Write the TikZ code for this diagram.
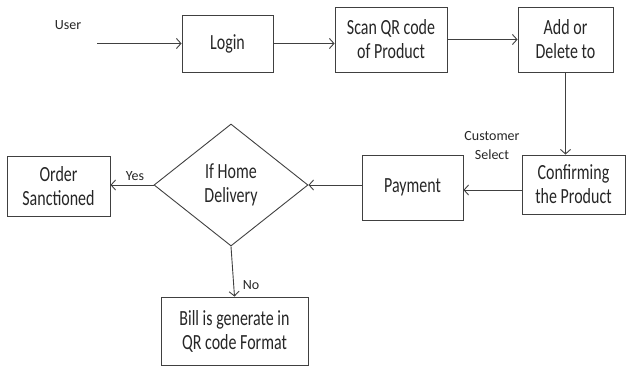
\documentclass[tikz,border=0pt]{standalone}
\usepackage{fontspec}
\setmainfont{Carlito}
% box captions use a condensed cut of the same face, set large
\newfontfamily\boxfont[FakeStretch=0.74]{Carlito}
\usetikzlibrary{shapes.geometric,arrows.meta}
\begin{document}
\begin{tikzpicture}[x=1pt,y=-1pt,
  box/.style={draw=black!75,line width=0.9pt,rectangle,inner sep=0pt,align=center,
    font=\boxfont\fontsize{21.6}{24}\selectfont,text=black!85},
  decision/.style={draw=black!75,line width=0.9pt,diamond,inner sep=0pt,align=center,
    font=\boxfont\fontsize{21.6}{24}\selectfont,text=black!85},
  lbl/.style={font=\fontsize{14}{19}\selectfont,text=black!85,align=center},
  arr/.style={draw=black!75,line width=0.9pt,-{Straight Barb[length=4.5pt,width=10pt]}}]
\useasboundingbox (0,0) rectangle (626,366);
% process boxes
\node[box,minimum width=91pt,minimum height=57pt] (login) at (227.5,43.5) {Login};
\node[box,minimum width=112pt,minimum height=65pt] (scan) at (391,39.5) {Scan QR code\\of Product};
\node[box,minimum width=95pt,minimum height=65pt] (add) at (565.5,39.5) {Add or\\Delete to};
\node[box,minimum width=103pt,minimum height=59pt] (conf) at (573.5,184.5) {Confirming\\the Product};
\node[box,minimum width=101pt,minimum height=65pt] (pay) at (412.5,187.5) {Payment};
\node[decision,minimum width=154pt,minimum height=122pt] (home) at (231,185) {If Home\\Delivery};
\node[box,minimum width=103pt,minimum height=60pt] (order) at (58.5,186) {Order\\Sanctioned};
\node[box,minimum width=147pt,minimum height=68pt] (bill) at (234.5,331) {Bill is generate in\\QR code Format};
% labels
\node[lbl] (user) at (68,25) {User};
\coordinate (start) at (97,43.5);
\node[lbl] (cust) at (492,146) {Customer\\Select};
\node[lbl] (yes) at (135,176) {Yes};
\node[lbl] (no) at (251,285) {No};
% connectors
\draw[arr] (start) -- (login.west);
\draw[arr] (login.east) -- (login.east -| scan.west);
\draw[arr] (scan.east) -- (add.west);
\draw[arr] (add.south) -- (add.south |- conf.north);
\draw[arr] ([yshift=-5.5pt]conf.west) -- ([yshift=-5.5pt]conf.west -| pay.east);
\draw[arr] (pay.west |- home.east) -- (home.east);
\draw[arr] (home.west) -- (home.west -| order.east);
\draw[arr] (home.south) -- (bill.north);
\end{tikzpicture}
\end{document}
